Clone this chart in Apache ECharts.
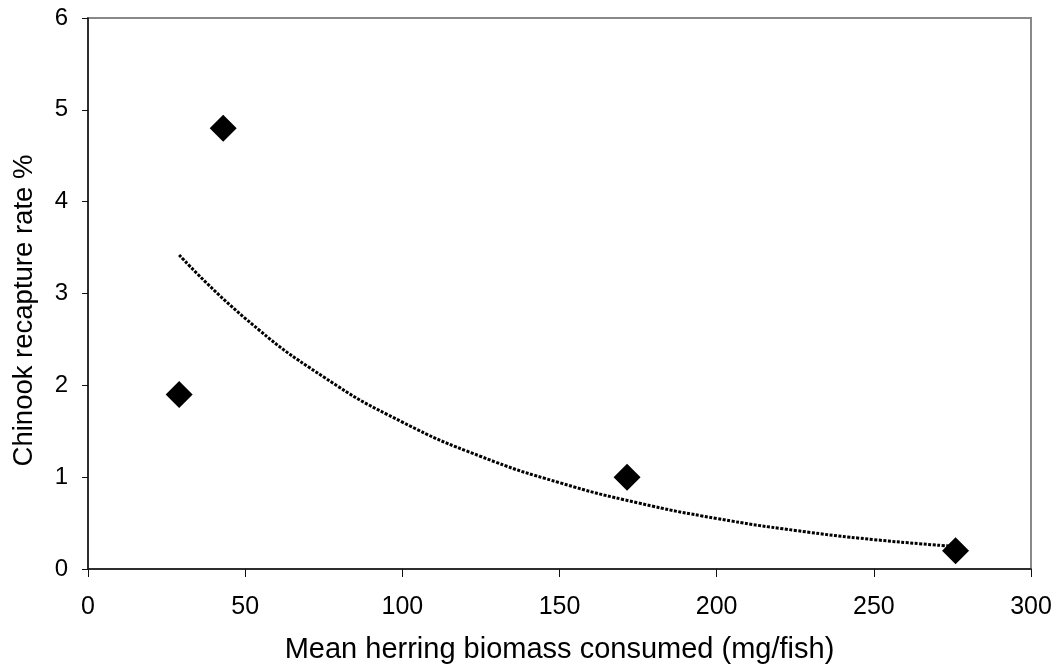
<!DOCTYPE html>
<html>
<head>
<meta charset="utf-8">
<script src="https://cdn.jsdelivr.net/npm/echarts@6/dist/echarts.min.js"></script>
<style>html,body{margin:0;padding:0;background:#fff}#c{width:1057px;height:668px}</style>
</head>
<body>
<div id="c"></div>
<script>
const xTitle = 'Mean herring biomass consumed (mg/fish)';
const yTitle = 'Chinook recapture rate %';
const herring = [29, 43, 171.5, 276];
const recapture = [1.9, 4.8, 1.0, 0.2];
const trendX = [29, 50, 75, 100, 125, 150, 175, 200, 225, 250, 276];
const trendY = [3.42, 2.73, 2.09, 1.60, 1.225, 0.94, 0.72, 0.55, 0.42, 0.32, 0.245];

const chart = echarts.init(document.getElementById('c'));
const font = 'Liberation Sans, Arial, sans-serif';
chart.setOption({
  animation: false,
  backgroundColor: '#fff',
  grid: {left: 88, right: 26, top: 18, bottom: 99, containLabel: false, outerBoundsMode: 'none',
         show: true, borderColor: '#888', borderWidth: 2},
  xAxis: {
    type: 'value', min: 0, max: 300, interval: 50,
    name: xTitle, nameLocation: 'middle', nameGap: 66,
    nameTextStyle: {fontFamily: font, fontSize: 29, color: '#000'},
    axisLine: {show: true, onZero: false, lineStyle: {color: '#111', width: 1.5}},
    axisTick: {show: true, inside: false, length: 8, lineStyle: {color: '#111', width: 1}},
    axisLabel: {fontFamily: font, fontSize: 25, color: '#000', margin: 26},
    splitLine: {show: false}
  },
  yAxis: {
    type: 'value', min: 0, max: 6, interval: 1,
    name: yTitle, nameLocation: 'middle', nameGap: 50, nameRotate: 90,
    nameTextStyle: {fontFamily: font, fontSize: 27.5, color: '#000', padding: [0, 34, 0, 0]},
    axisLine: {show: true, onZero: false, lineStyle: {color: '#111', width: 1.5}},
    axisTick: {show: true, inside: false, length: 6, lineStyle: {color: '#111', width: 1}},
    axisLabel: {fontFamily: font, fontSize: 24, color: '#000', margin: 20},
    splitLine: {show: false}
  },
  series: [
    {
      type: 'line', data: trendX.map((x, i) => [x, trendY[i]]), smooth: true,
      showSymbol: false, symbol: 'none',
      lineStyle: {color: '#000', width: 3, type: [3, 1.5]}, z: 2
    },
    {
      type: 'scatter', data: herring.map((x, i) => [x, recapture[i]]),
      symbol: 'diamond', symbolSize: 27,
      itemStyle: {color: '#000', opacity: 1}, z: 3
    }
  ]
});
</script>
</body>
</html>
